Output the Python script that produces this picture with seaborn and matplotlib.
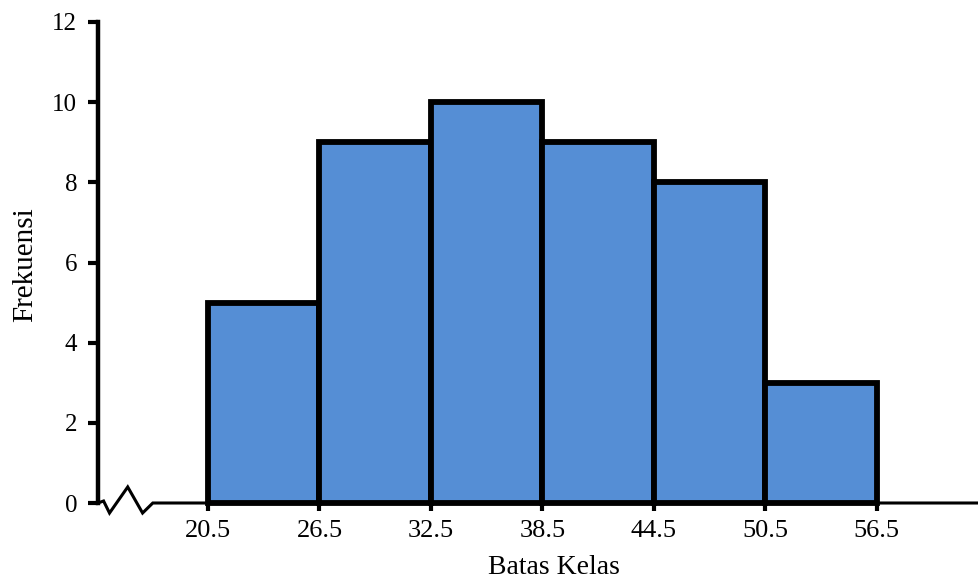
import matplotlib
matplotlib.use("Agg")
import matplotlib.pyplot as plt
import seaborn as sns
import numpy as np
import pandas as pd

# data
bin_edges = [20.5, 26.5, 32.5, 38.5, 44.5, 50.5, 56.5]
frequencies = [5, 9, 10, 9, 8, 3]
y_ticks = [0, 2, 4, 6, 8, 10, 12]
x_label = "Batas Kelas"
y_label = "Frekuensi"

sns.set_theme(style="white")
plt.rcParams['font.family'] = ['Liberation Serif', 'DejaVu Serif']
plt.rcParams['text.color'] = 'black'
plt.rcParams['axes.labelcolor'] = 'black'
plt.rcParams['xtick.color'] = 'black'
plt.rcParams['ytick.color'] = 'black'

edges = np.array(bin_edges)
mids = (edges[:-1] + edges[1:]) / 2
df = pd.DataFrame({"nilai": mids, "frek": frequencies})

fig = plt.figure(figsize=(9.79, 5.83), dpi=100)
ax = fig.add_axes([98/979, 80/583, 1 - 98/979, 481/583])

sns.histplot(data=df, x="nilai", weights="frek", bins=bin_edges, ax=ax,
             color="#558ED5", edgecolor="black", linewidth=4.2, alpha=1.0)
for p in ax.patches:
    p.set_clip_on(False)
    p.set_joinstyle("miter")

ax.set_xlim(14.58, 62.0)
ax.set_ylim(0, 12)
ax.set_xticks(bin_edges)
ax.set_xticklabels([f"{v:.1f}" for v in bin_edges])
ax.set_yticks(y_ticks)
ax.set_yticklabels([str(v) for v in y_ticks])

for s in ["top", "right", "bottom"]:
    ax.spines[s].set_visible(False)
ax.spines["left"].set_linewidth(3.2)
ax.spines["left"].set_color("black")

# baseline with break symbol
x0 = 14.58
bx = [x0, x0 + 0.30, x0 + 0.62, x0 + 1.60, x0 + 2.40, x0 + 2.95, 62.0]
by = [0, 0.05, -0.25, 0.40, -0.25, 0.0, 0.0]
ax.plot(bx, by, color="black", lw=2.2, clip_on=False, zorder=1,
        solid_joinstyle="miter")

ax.tick_params(axis="y", direction="out", length=7, width=3, color="black",
               labelcolor="black", labelsize=18, pad=8, left=True)
ax.tick_params(axis="x", direction="out", length=6, width=3, color="black",
               labelcolor="black", labelsize=19, pad=6, bottom=True)

ax.set_xlabel(x_label, fontsize=20, color="black")
ax.xaxis.set_label_coords((554 - 98) / 881, -(567 - 503) / 481)
ax.xaxis.label.set_va("center")
ax.set_ylabel(y_label, fontsize=21, color="black")
ax.yaxis.set_label_coords((25 - 98) / 881, (503 - 265) / 481)
ax.yaxis.label.set_va("center")
ax.grid(False)

fig.savefig("out.png", dpi=100)
